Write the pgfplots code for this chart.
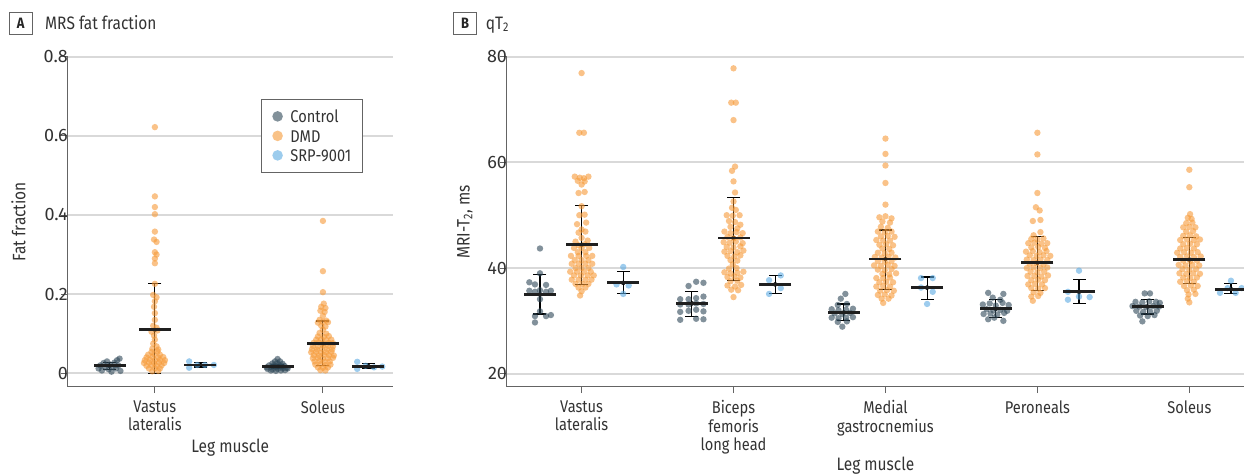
\documentclass[border=0pt]{standalone}
\usepackage{fontspec}
\setmainfont{Fira Sans}[FakeStretch=0.86]
\newfontfamily\tickfont{Fira Sans}
\usepackage{pgfplots}
\pgfplotsset{compat=1.18}
\definecolor{ctrl}{RGB}{47,72,88}
\definecolor{dmd}{RGB}{246,154,56}
\definecolor{srp}{RGB}{91,170,226}
\definecolor{txt}{RGB}{51,51,51}
\definecolor{gridc}{RGB}{217,217,217}
\definecolor{axc}{RGB}{100,100,100}
\pgfplotsset{
  pts/.style={forget plot, only marks, mark=*, mark size=3.2pt, color=#1, mark options={draw opacity=0, line width=0pt, fill=#1, fill opacity=0.6}},
  sdbar/.style={forget plot, only marks, mark=none, error bars/.cd, y dir=both, y explicit, error mark=none, error bar style={line width=1.1pt, draw=black}},
  sdcap/.style={forget plot, only marks, mark=-, mark size=6.5pt, mark options={line width=1.1pt, draw=black}},
  meanbar/.style={forget plot, only marks, mark=-, mark size=16pt, mark options={line width=2.8pt, draw=black!88}},
  common/.style={
    scale only axis,
    axis x line*=bottom, axis y line*=left,
    axis line style={axc, line width=0.9pt},
    ymajorgrids, major grid style={gridc, line width=1.8pt},
    tick align=outside, major tick length=6.5pt,
    every tick/.style={axc, line width=0.9pt},
    /pgf/number format/assume math mode=true,
    tick label style={font=\fontsize{17}{18.4}\selectfont, text=txt},
    yticklabel style={font=\tickfont\fontsize{18}{18}\selectfont, inner sep=0pt, xshift=7pt},
    xticklabel style={align=center, anchor=north, inner sep=0pt, yshift=-7pt},
    label style={font=\fontsize{18}{20}\selectfont, text=txt},
    clip=false,
  }
}
\begin{document}
\begin{tikzpicture}[x=1pt,y=1pt]
\path[use as bounding box] (0,0) rectangle (1244,476);
% panel titles
\node[draw=axc, line width=0.9pt, minimum width=23pt, minimum height=21.6pt, inner sep=0pt, font=\fontsize{15}{15}\bfseries, text=black!85] at (20.8,452.5) {A};
\node[anchor=base west, inner sep=0pt, font=\fontsize{18}{20}\selectfont, text=txt] at (45,446.7) {MRS fat fraction};
\node[draw=axc, line width=0.9pt, minimum width=23pt, minimum height=21.6pt, inner sep=0pt, font=\fontsize{15}{15}\bfseries, text=black!85] at (465,452.5) {B};
\node[anchor=base west, inner sep=0pt, font=\fontsize{18}{20}\selectfont, text=txt] at (485.7,446.7) {qT\textsubscript{2}};

% ---------------- Panel A ----------------
\begin{axis}[common, at={(67.5pt,89.3pt)}, anchor=south west,
  width=325.5pt, height=330pt,
  xmin=0.48, xmax=2.417, ymin=-0.0339, ymax=0.8,
  ytick={0,0.2,0.4,0.6,0.8},
  xtick={1,2}, xticklabels={{Vastus\\lateralis},{Soleus}},
  ylabel={Fat fraction},
  ylabel style={at={([xshift=-49pt]rel axis cs:0,0.5)}, anchor=center},
  xlabel={Leg muscle},
  xlabel style={at={([yshift=-66.3pt]rel axis cs:0.5,0)}, anchor=base},
  legend style={at={(rel axis cs:0.594,0.872)}, anchor=north west, draw=axc, line width=0.9pt,
    font=\fontsize{17}{18}\selectfont, text=txt, inner xsep=11pt, inner ysep=9.5pt, row sep=4.5pt, column sep=7.5pt,
    nodes={inner sep=0pt, text height=14pt, text depth=1pt}},
  legend cell align=left,
]
\addlegendimage{only marks, mark=*, mark size=5.3pt, color=ctrl, mark options={draw opacity=0, fill=ctrl, fill opacity=0.6}}
\addlegendentry{Control}
\addlegendimage{only marks, mark=*, mark size=5.3pt, color=dmd, mark options={draw opacity=0, fill=dmd, fill opacity=0.6}}
\addlegendentry{DMD}
\addlegendimage{only marks, mark=*, mark size=5.3pt, color=srp, mark options={draw opacity=0, fill=srp, fill opacity=0.6}}
\addlegendentry{SRP-9001}

\addplot[sdbar] table[x=x, y=y, y error plus=ep, y error minus=em] {
x y ep em
0.73 0.019 0.0085 0.009
1 0.110 0.116 0.110
1.27 0.021 0.006 0.005
1.73 0.018 0.005 0.005
2 0.075 0.057 0.056
2.27 0.018 0.007 0.007
};
\addplot[sdcap] table[x=x, y=y] {
x y
0.73 0.0275
0.73 0.010
1 0.226
1 0.000
1.27 0.027
1.27 0.016
1.73 0.023
1.73 0.013
2 0.132
2 0.019
2.27 0.025
2.27 0.011
};

% Control, vastus lateralis
\addplot[pts=ctrl] table[x expr=\thisrow{d}+0.73, y=y] {
d y
-0.065 0.012
-0.055 0.020
-0.045 0.007
-0.035 0.026
-0.025 0.015
-0.015 0.030
-0.005 0.010
0.005 0.022
0.012 0.004
0.02 0.016
0.03 0.027
0.038 0.012
0.045 0.033
0.052 0.020
0.06 0.037
0.065 0.006
};
% DMD, vastus lateralis
\addplot[pts=dmd] table[x expr=\thisrow{d}+1, y=y] {
d y
0 0.622
0 0.447
0 0.420
0 0.402
0 0.358
-0.005 0.338
0.01 0.332
0 0.306
0.01 0.300
0 0.290
0 0.278
0 0.226
-0.01 0.198
0.01 0.192
0 0.182
-0.005 0.168
0 0.152
0 0.135
-0.01 0.120
0.01 0.115
-0.02 0.105
0.015 0.108
-0.005 0.095
0 0.085
-0.01 0.075
0.01 0.068
-0.015 0.062
0.02 0.060
-0.02 0.054
0.015 0.055
-0.04 0.047
-0.005 0.048
0.03 0.047
-0.05 0.040
-0.015 0.041
0.02 0.040
0.05 0.041
-0.06 0.033
-0.03 0.034
0 0.033
0.03 0.034
0.06 0.033
-0.065 0.026
-0.035 0.027
-0.005 0.026
0.025 0.027
0.055 0.026
-0.05 0.019
-0.02 0.020
0.01 0.019
0.04 0.020
-0.035 0.012
0 0.013
0.03 0.012
-0.015 0.005
0.02 0.006
};
% SRP, vastus lateralis
\addplot[pts=srp] table[x expr=\thisrow{d}+1.27, y=y] {
d y
-0.066 0.030
-0.066 0.014
-0.018 0.021
0.028 0.021
0.081 0.021
};
% Control, soleus
\addplot[pts=ctrl] table[x expr=\thisrow{d}+1.73, y=y] {
d y
0 0.036
-0.015 0.030
0.015 0.030
-0.03 0.025
0 0.025
0.03 0.024
-0.05 0.020
-0.02 0.020
0.01 0.021
0.04 0.019
-0.065 0.015
-0.035 0.016
-0.005 0.015
0.025 0.016
0.055 0.014
-0.06 0.011
-0.03 0.010
0 0.011
0.03 0.012
0.06 0.012
-0.04 0.007
-0.01 0.006
0.02 0.007
0.045 0.008
};
% DMD, soleus
\addplot[pts=dmd] table[x expr=\thisrow{d}+2, y=y] {
d y
0 0.385
0 0.258
0 0.205
0.005 0.176
-0.01 0.168
0.015 0.165
-0.015 0.158
0.01 0.155
0 0.145
-0.02 0.135
0.02 0.133
-0.03 0.128
0 0.130
0.03 0.129
-0.01 0.120
0.015 0.118
0 0.110
-0.02 0.102
0.02 0.100
-0.03 0.093
0.005 0.092
0.035 0.094
-0.04 0.085
-0.01 0.086
0.02 0.084
0.05 0.085
-0.055 0.077
-0.025 0.078
0.005 0.076
0.035 0.077
0.06 0.076
-0.06 0.069
-0.03 0.068
0 0.070
0.03 0.069
0.06 0.068
-0.065 0.061
-0.035 0.060
-0.005 0.062
0.025 0.061
0.055 0.060
-0.07 0.053
-0.04 0.054
-0.01 0.052
0.02 0.053
0.05 0.054
-0.055 0.046
-0.025 0.045
0.005 0.047
0.035 0.046
0.065 0.045
-0.06 0.038
-0.03 0.039
0 0.037
0.03 0.038
0.06 0.039
-0.05 0.030
-0.02 0.031
0.01 0.029
0.04 0.030
-0.045 0.022
-0.015 0.023
0.015 0.021
0.045 0.022
-0.03 0.015
0 0.014
0.03 0.015
-0.015 0.008
0.015 0.007
};
% SRP, soleus
\addplot[pts=srp] table[x expr=\thisrow{d}+2.27, y=y] {
d y
-0.066 0.029
-0.066 0.011
-0.016 0.019
0.034 0.015
0.083 0.017
};
\addplot[meanbar] table[x=x, y=y] {
x y
0.73 0.019
1 0.110
1.27 0.021
1.73 0.018
2 0.075
2.27 0.018
};
\end{axis}

% ---------------- Panel B ----------------
\begin{axis}[common, at={(506.7pt,89.3pt)}, anchor=south west,
  width=737.3pt, height=330pt,
  xmin=0.507, xmax=5.36, ymin=17.54, ymax=80,
  ytick={20,40,60,80},
  xtick={1,2,3,4,5},
  xticklabels={{Vastus\\lateralis},{Biceps\\femoris\\long head},{Medial\\gastrocnemius},{Peroneals},{Soleus}},
  ylabel={MRI-T\textsubscript{2}, ms},
  ylabel style={at={([xshift=-41.7pt]rel axis cs:0,0.5)}, anchor=center},
  xlabel={Leg muscle},
  xlabel style={at={([yshift=-83.8pt]rel axis cs:0.5,0)}, anchor=base},
]
\addplot[sdbar] table[x=x, y=y, y error plus=ep, y error minus=em] {
x y ep em
0.726 35.0 3.7 3.7
1 44.4 7.4 7.5
1.274 37.2 2.1 2.0
1.726 33.3 2.2 2.4
2 45.7 7.7 8.0
2.274 36.9 1.7 1.7
2.726 31.6 1.6 1.6
3 41.7 5.5 5.7
3.274 36.3 2.0 2.2
3.726 32.3 1.8 1.6
4 41.0 5.0 5.3
4.274 35.5 2.4 2.2
4.726 32.7 1.4 1.4
5 41.6 4.2 4.5
5.274 36.0 1.1 0.8
};
\addplot[sdcap] table[x=x, y=y] {
x y
0.726 38.7
0.726 31.3
1 51.8
1 36.9
1.274 39.3
1.274 35.2
1.726 35.5
1.726 30.9
2 53.4
2 37.7
2.274 38.6
2.274 35.2
2.726 33.2
2.726 30.0
3 47.2
3 36.0
3.274 38.3
3.274 34.1
3.726 34.1
3.726 30.7
4 46.0
4 35.7
4.274 37.9
4.274 33.3
4.726 34.1
4.726 31.3
5 45.8
5 37.1
5.274 37.1
5.274 35.2
};

% ---- Vastus lateralis
\addplot[pts=ctrl] table[x expr=\thisrow{d}+0.726, y=y] {
d y
0 43.7
0 39.0
-0.07 37.3
-0.033 36.9
0.04 36.8
-0.07 35.7
-0.033 35.5
0 35.8
0.04 35.5
0.072 35.7
0 34.1
0 31.8
-0.033 30.9
0.04 30.9
0.072 31.1
-0.033 29.7
};
\addplot[pts=dmd] table[x expr=\thisrow{d}+1, y=y] {
d y
0 76.9
-0.015 65.6
0.015 65.6
-0.045 57.3
-0.012 57.1
0.015 57.0
0.045 57.3
-0.025 56.5
0.02 56.4
0 55.8
-0.02 54.2
0.02 54.4
0 51.7
-0.015 50.0
0.02 50.1
-0.03 48.3
0.03 48.6
0 47.3
-0.02 46.7
0.025 46.9
0 45.7
-0.04 45.0
0.04 45.2
-0.02 44.3
0.02 44.5
-0.05 43.8
0 43.8
0.05 43.8
-0.025 43.0
0.025 43.0
-0.07 42.3
-0.02 42.3
0.03 42.3
0.07 42.3
-0.045 41.5
0 41.5
0.045 41.5
-0.065 40.8
-0.02 40.8
0.025 40.8
0.07 40.8
-0.04 40.0
0 40.0
0.045 40.0
-0.075 39.3
-0.03 39.3
0.015 39.3
0.06 39.3
-0.05 38.6
-0.005 38.6
0.04 38.6
0.08 38.6
-0.065 37.8
-0.02 37.8
0.025 37.8
0.065 37.8
-0.04 37.0
0.005 37.0
0.045 37.0
-0.02 36.3
0.025 36.3
0 35.6
-0.01 34.8
};
\addplot[pts=srp] table[x expr=\thisrow{d}+1.274, y=y] {
d y
0 40.2
-0.044 36.9
0.036 36.7
0 35.1
};
% ---- Biceps femoris long head
\addplot[pts=ctrl] table[x expr=\thisrow{d}+1.726, y=y] {
d y
-0.022 36.6
0.028 37.4
0.076 37.2
-0.077 34.1
-0.022 34.1
0.028 34.3
0.076 34.6
-0.077 33.1
-0.022 33.1
0.028 33.3
0.076 33.2
-0.077 31.7
-0.022 31.9
0.028 32.1
0.076 31.8
-0.077 30.2
0.028 30.4
0.076 30.3
};
\addplot[pts=dmd] table[x expr=\thisrow{d}+2, y=y] {
d y
0 77.8
-0.015 71.3
0.015 71.3
0 68.0
0.01 59.2
-0.01 58.4
0 56.4
0.01 54.3
0 52.6
-0.01 51.4
0.015 51.0
-0.045 50.0
-0.005 49.9
0.04 50.0
-0.03 48.9
0.01 48.7
0.045 48.2
-0.02 47.8
0.025 47.5
-0.06 46.9
-0.02 46.6
0.02 46.8
0.06 46.6
-0.04 45.9
0 45.6
0.045 45.8
-0.065 44.9
-0.025 44.8
0.015 45.0
0.06 44.7
-0.045 44.0
0 43.9
0.045 44.1
-0.06 43.1
-0.02 43.2
0.025 43.0
0.065 43.3
-0.04 42.3
0.005 42.2
0.045 42.4
-0.02 41.5
0.025 41.4
-0.005 40.7
-0.03 39.9
0.02 40.0
-0.06 39.2
-0.02 39.0
0.025 39.1
0.065 39.3
-0.04 38.3
0.005 38.4
0.045 38.2
-0.02 37.5
0.025 37.6
-0.04 36.7
0.01 36.5
0.05 36.8
-0.015 35.9
0.03 35.8
0 34.5
};
\addplot[pts=srp] table[x expr=\thisrow{d}+2.274, y=y] {
d y
-0.04 37.7
0.037 38.6
0.037 36.2
-0.04 35.1
};
% ---- Medial gastrocnemius
\addplot[pts=ctrl] table[x expr=\thisrow{d}+2.726, y=y] {
d y
0.01 35.1
-0.02 34.2
-0.04 33.0
0.02 33.2
-0.08 32.2
-0.035 32.0
0.015 32.1
0.06 32.3
-0.06 31.4
-0.01 31.3
0.04 31.5
-0.08 30.6
-0.035 30.5
0.015 30.6
0.06 30.7
-0.04 29.8
0.02 29.9
-0.01 28.9
};
\addplot[pts=dmd] table[x expr=\thisrow{d}+3, y=y] {
d y
0 64.5
0 61.6
0 59.4
0 56.1
0 52.0
-0.04 49.6
0 49.8
0.04 49.4
-0.02 48.8
0.03 48.6
-0.03 47.8
0.015 47.6
-0.05 46.9
-0.005 46.8
0.04 46.9
-0.03 46.0
0.015 46.1
0.06 45.9
-0.06 45.3
-0.015 45.2
0.03 45.2
-0.04 44.4
0.005 44.5
0.05 44.3
-0.02 43.7
0.025 43.6
-0.05 42.9
-0.005 42.8
0.04 42.9
-0.07 42.1
-0.025 42.0
0.02 42.1
0.065 42.0
-0.05 41.3
-0.005 41.2
0.04 41.3
-0.075 40.5
-0.03 40.4
0.015 40.6
0.06 40.4
-0.05 39.7
-0.005 39.6
0.04 39.8
-0.02 38.9
0.025 38.8
0.07 39.0
-0.06 38.1
-0.015 38.1
0.03 38.2
-0.04 37.3
0.005 37.4
0.05 37.3
-0.06 36.5
-0.015 36.6
0.03 36.5
-0.035 35.7
0.01 35.8
0.055 35.7
-0.05 34.9
-0.005 35.0
0.04 34.8
-0.025 34.2
0.02 34.2
-0.015 33.4
};
\addplot[pts=srp] table[x expr=\thisrow{d}+3.274, y=y] {
d y
-0.04 38.1
0.037 38.1
-0.04 36.3
0.037 35.5
0 33.2
};
% ---- Peroneals
\addplot[pts=ctrl] table[x expr=\thisrow{d}+3.726, y=y] {
d y
-0.05 35.3
0.05 35.1
-0.02 34.4
0.03 34.0
-0.085 33.1
-0.04 33.3
0 32.9
0.045 33.4
0.085 33.0
-0.06 32.2
-0.015 32.0
0.03 32.1
0.075 31.9
-0.08 31.3
-0.035 31.4
0.01 31.2
0.055 31.5
-0.05 30.3
0.05 30.0
-0.01 30.6
};
\addplot[pts=dmd] table[x expr=\thisrow{d}+4, y=y] {
d y
0 65.6
0 61.5
0 54.2
-0.01 51.5
0.015 50.9
-0.03 48.9
0.02 49.1
0.02 46.8
-0.025 46.2
-0.04 45.5
0 45.4
0.04 45.6
-0.06 44.7
-0.02 44.8
0.025 44.6
0.065 44.7
-0.04 43.9
0.005 44.0
0.05 43.8
-0.075 43.1
-0.03 43.2
0.015 43.0
0.06 43.2
-0.05 42.4
-0.005 42.3
0.04 42.4
0.085 42.3
-0.07 41.6
-0.025 41.5
0.02 41.6
0.065 41.5
-0.05 40.8
-0.005 40.9
0.04 40.7
-0.07 40.0
-0.025 40.1
0.02 40.0
0.065 40.1
-0.045 39.3
0 39.2
0.045 39.3
-0.065 38.5
-0.02 38.5
0.025 38.4
0.07 38.6
-0.04 37.7
0.005 37.8
0.05 37.7
-0.06 36.9
-0.015 37.0
0.03 36.9
-0.04 36.2
0.005 36.1
0.05 36.2
-0.025 35.4
0.02 35.3
-0.04 34.6
0.005 34.7
-0.03 33.8
};
\addplot[pts=srp] table[x expr=\thisrow{d}+4.274, y=y] {
d y
0 39.5
-0.073 35.5
-0.073 34.0
0 34.6
0.07 34.5
};
% ---- Soleus
\addplot[pts=ctrl] table[x expr=\thisrow{d}+4.726, y=y] {
d y
-0.02 35.2
0.015 35.2
-0.08 33.6
-0.035 33.5
0.01 33.7
0.055 33.6
0.08 33.4
-0.1 32.8
-0.055 32.7
-0.01 32.6
0.035 32.8
0.075 32.7
-0.075 31.9
-0.03 31.7
0.015 31.8
0.06 31.9
-0.05 31.0
0 30.9
0.045 31.1
-0.035 29.9
};
\addplot[pts=dmd] table[x expr=\thisrow{d}+5, y=y] {
d y
0 58.6
0 55.3
0.005 50.2
-0.01 49.5
0.015 49.3
-0.02 48.5
0.02 48.6
-0.04 47.7
0 47.8
0.04 47.7
-0.02 46.9
0.025 47.0
-0.04 46.1
0.005 46.2
0.045 46.0
-0.06 45.3
-0.015 45.4
0.03 45.3
0.07 45.4
-0.04 44.5
0.005 44.6
0.05 44.5
-0.06 43.7
-0.015 43.8
0.03 43.7
-0.08 42.9
-0.035 43.0
0.01 42.9
0.055 43.0
-0.06 42.1
-0.015 42.2
0.03 42.1
0.075 42.2
-0.04 41.4
0.005 41.3
0.05 41.4
-0.07 40.6
-0.025 40.5
0.02 40.6
0.065 40.5
-0.045 39.8
0 39.7
0.045 39.8
-0.065 39.0
-0.02 38.9
0.025 39.0
0.07 38.9
-0.04 38.2
0.005 38.1
0.05 38.2
-0.06 37.4
-0.015 37.5
0.03 37.4
-0.035 36.6
0.01 36.7
0.055 36.6
-0.015 35.8
0.03 35.9
-0.005 35.0
0.04 35.1
-0.01 34.2
0 33.5
};
\addplot[pts=srp] table[x expr=\thisrow{d}+5.274, y=y] {
d y
0 37.6
-0.072 35.3
-0.022 36.2
0.031 35.3
0.07 36.2
};
\addplot[meanbar] table[x=x, y=y] {
x y
0.726 35.0
1 44.4
1.274 37.2
1.726 33.3
2 45.7
2.274 36.9
2.726 31.6
3 41.7
3.274 36.3
3.726 32.3
4 41.0
4.274 35.5
4.726 32.7
5 41.6
5.274 36.0
};
\end{axis}
\end{tikzpicture}
\end{document}
